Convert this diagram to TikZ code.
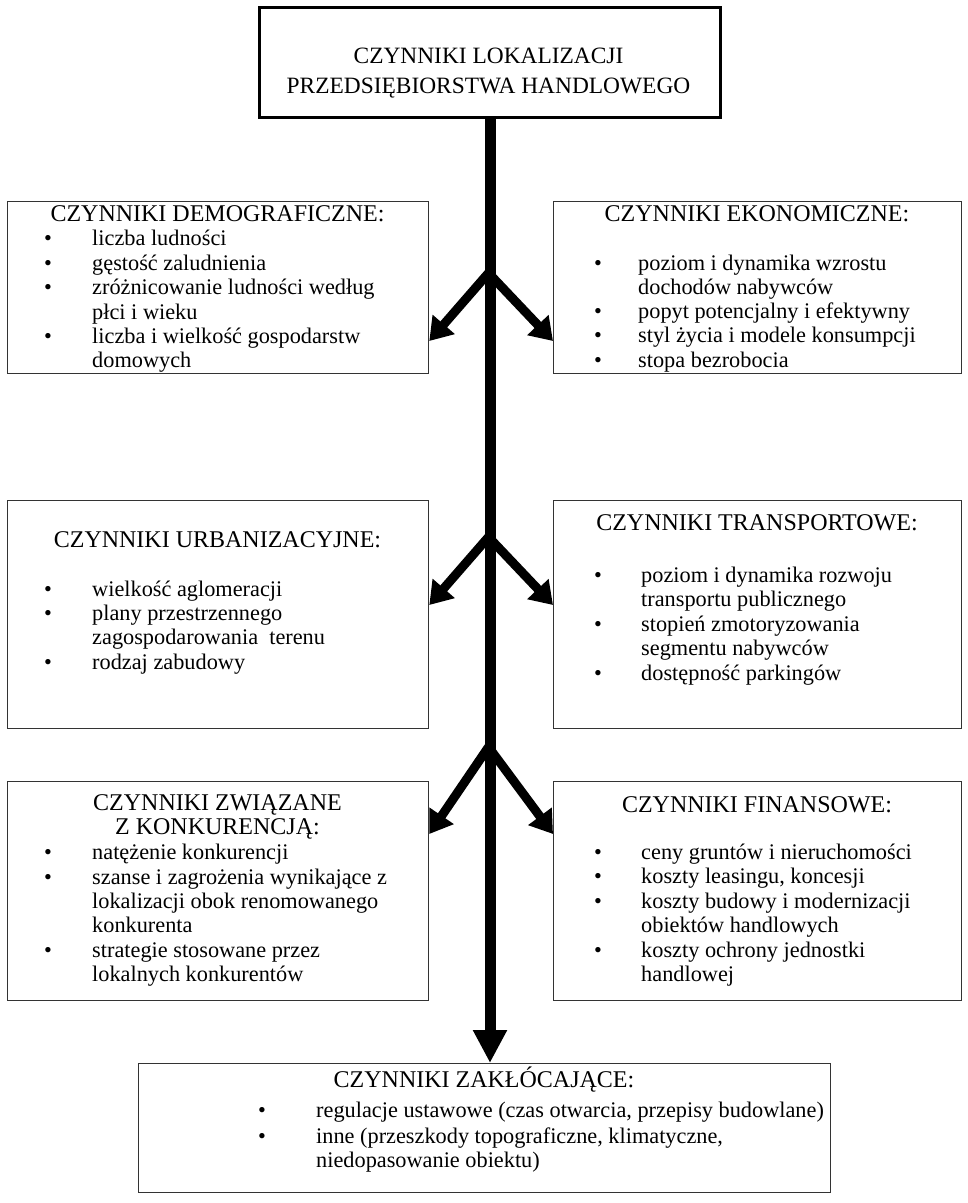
\documentclass[tikz,border=0pt]{standalone}
\usepackage{fontspec}
\setmainfont{Liberation Serif}
\usepackage{tikz}
\usetikzlibrary{arrows.meta}
\tikzstyle{box}=[draw=black!80, line width=1.3pt, inner sep=0pt, anchor=north west]
\tikzstyle{mainbox}=[draw, line width=3pt, inner sep=0pt, anchor=north west]
\tikzstyle{ttl}=[inner sep=0pt, anchor=base, font=\fontsize{24}{26}\selectfont]
\tikzstyle{toptxt}=[inner sep=0pt, anchor=base, font=\fontsize{23.4}{26}\selectfont]
\tikzstyle{txt}=[inner sep=0pt, anchor=base west]
\tikzstyle{bul}=[inner sep=0pt, anchor=base]
\tikzstyle{trunk}=[line width=11pt, -{Triangle[length=33pt,width=32pt]}]
\tikzstyle{branch}=[line width=9pt, -{Triangle[length=22pt,width=28pt]}]

\begin{document}
\begin{tikzpicture}[x=1pt, y=-1pt, font=\fontsize{22.3}{24}\selectfont]
				\useasboundingbox (0,0) rectangle (968,1203);
				
				% boxes
				\node[mainbox, minimum width=461pt, minimum height=110pt] (top) at (258,6) {};
				\node[box, minimum width=421pt, minimum height=172pt] (dem) at (7,201) {};
				\node[box, minimum width=408pt, minimum height=172pt] (eko) at (553,201) {};
				\node[box, minimum width=421pt, minimum height=228pt] (urb) at (7,500) {};
				\node[box, minimum width=408pt, minimum height=228pt] (tra) at (553,500) {};
				\node[box, minimum width=421pt, minimum height=219pt] (kon) at (7,781) {};
				\node[box, minimum width=408pt, minimum height=219pt] (fin) at (553,781) {};
				\node[box, minimum width=692pt, minimum height=129pt] (zak) at (138,1063) {};
				
				% top
				\node[toptxt] (top1) at (488.5,63) {CZYNNIKI LOKALIZACJI};
				\node[toptxt] (top2) at (488.5,93) {PRZEDSIĘBIORSTWA HANDLOWEGO};
				
				% demograficzne
				\node[ttl] (demt) at (217.5,221) {CZYNNIKI DEMOGRAFICZNE:};
				\node[bul] (demb1) at (48,245.5) {•};
				\node[txt] (dem1) at (92,245.5) {liczba ludności};
				\node[bul] (demb2) at (48,270) {•};
				\node[txt] (dem2) at (92,270) {gęstość zaludnienia};
				\node[bul] (demb3) at (48,294.5) {•};
				\node[txt] (dem3) at (92,294.5) {zróżnicowanie ludności według};
				\node[txt] (dem3a) at (92,319) {płci i wieku};
				\node[bul] (demb4) at (48,343.5) {•};
				\node[txt] (dem4) at (92,343.5) {liczba i wielkość gospodarstw};
				\node[txt] (dem4a) at (92,367) {domowych};
				
				% ekonomiczne
				\node[ttl] (ekot) at (757,221) {CZYNNIKI EKONOMICZNE:};
				\node[bul] (ekob1) at (598,270) {•};
				\node[txt] (eko1) at (638,270) {poziom i dynamika wzrostu};
				\node[txt] (eko1a) at (638,294) {dochodów nabywców};
				\node[bul] (ekob2) at (598,318) {•};
				\node[txt] (eko2) at (638,318) {popyt potencjalny i efektywny};
				\node[bul] (ekob3) at (598,342) {•};
				\node[txt] (eko3) at (638,342) {styl życia i modele konsumpcji};
				\node[bul] (ekob4) at (598,367) {•};
				\node[txt] (eko4) at (638,367) {stopa bezrobocia};
				
				% urbanizacyjne
				\node[ttl] (urbt) at (217.5,547) {CZYNNIKI URBANIZACYJNE:};
				\node[bul] (urbb1) at (48,596) {•};
				\node[txt] (urb1) at (92,596) {wielkość aglomeracji};
				\node[bul] (urbb2) at (48,620) {•};
				\node[txt] (urb2) at (92,620) {plany przestrzennego};
				\node[txt] (urb2a) at (92,644) {zagospodarowania \ terenu};
				\node[bul] (urbb3) at (48,669) {•};
				\node[txt] (urb3) at (92,669) {rodzaj zabudowy};
				
				% transportowe
				\node[ttl] (trat) at (757,530) {CZYNNIKI TRANSPORTOWE:};
				\node[bul] (trab1) at (598,582) {•};
				\node[txt] (tra1) at (641,582) {poziom i dynamika rozwoju};
				\node[txt] (tra1a) at (641,606) {transportu publicznego};
				\node[bul] (trab2) at (598,631) {•};
				\node[txt] (tra2) at (641,631) {stopień zmotoryzowania};
				\node[txt] (tra2a) at (641,655) {segmentu nabywców};
				\node[bul] (trab3) at (598,680) {•};
				\node[txt] (tra3) at (641,680) {dostępność parkingów};
				
				% konkurencja
				\node[ttl] (kont) at (217.5,810) {CZYNNIKI ZWIĄZANE};
				\node[ttl] (kont2) at (217.5,834) {Z KONKURENCJĄ:};
				\node[bul] (konb1) at (48,859) {•};
				\node[txt] (kon1) at (92,859) {natężenie konkurencji};
				\node[bul] (konb2) at (48,884) {•};
				\node[txt] (kon2) at (92,884) {szanse i zagrożenia wynikające z};
				\node[txt] (kon2a) at (92,908) {lokalizacji obok renomowanego};
				\node[txt] (kon2b) at (92,932) {konkurenta};
				\node[bul] (konb3) at (48,957) {•};
				\node[txt] (kon3) at (92,957) {strategie stosowane przez};
				\node[txt] (kon3a) at (92,981) {lokalnych konkurentów};
				
				% finansowe
				\node[ttl] (fint) at (757,812) {CZYNNIKI FINANSOWE:};
				\node[bul] (finb1) at (598,859) {•};
				\node[txt] (fin1) at (641,859) {ceny gruntów i nieruchomości};
				\node[bul] (finb2) at (598,883) {•};
				\node[txt] (fin2) at (641,883) {koszty leasingu, koncesji};
				\node[bul] (finb3) at (598,908) {•};
				\node[txt] (fin3) at (641,908) {koszty budowy i modernizacji};
				\node[txt] (fin3a) at (641,932) {obiektów handlowych};
				\node[bul] (finb4) at (598,957) {•};
				\node[txt] (fin4) at (641,957) {koszty ochrony jednostki};
				\node[txt] (fin4a) at (641,981) {handlowej};
				
				% zaklocajace
				\node[ttl] (zakt) at (484,1087) {CZYNNIKI ZAKŁÓCAJĄCE:};
				\node[bul] (zakb1) at (262,1117) {•};
				\node[txt] (zak1) at (316,1117) {regulacje ustawowe (czas otwarcia, przepisy budowlane)};
				\node[bul] (zakb2) at (262,1143) {•};
				\node[txt] (zak2) at (316,1143) {inne (przeszkody topograficzne, klimatyczne,};
				\node[txt] (zak2a) at (316,1167) {niedopasowanie obiektu)};
				
				% arrows
				\coordinate (j1) at (488.5,273);
				\coordinate (j2) at (488.5,537);
				\coordinate (j3) at (488.5,747);
				\draw[branch] (j1) -- ([yshift=-140pt]dem.north east);
				\draw[branch] (j1) -- ([yshift=-140pt]eko.north west);
				\draw[branch] (j2) -- ([yshift=-105pt]urb.north east);
				\draw[branch] (j2) -- ([yshift=-105pt]tra.north west);
				\draw[branch] (j3) -- ([yshift=-53pt]kon.north east);
				\draw[branch] (j3) -- ([yshift=-53pt]fin.north west);
				\draw[trunk] (top.south) -- (top.south |- zak.north);
			\end{tikzpicture}
\end{document}
